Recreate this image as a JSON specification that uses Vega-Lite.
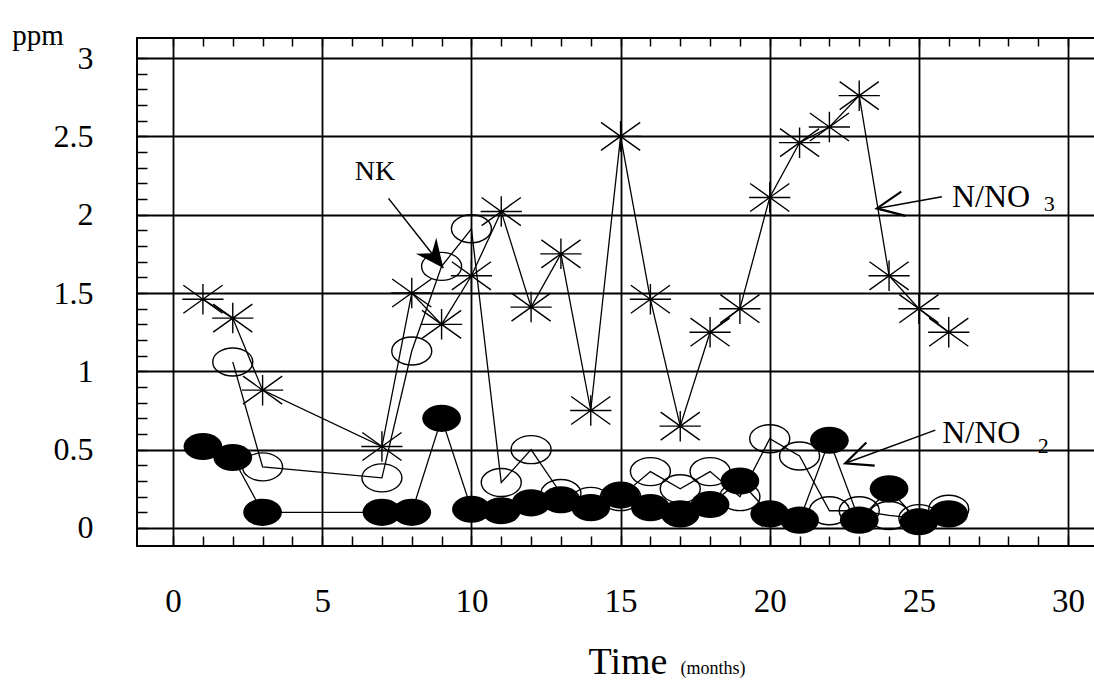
{
  "$schema": "https://vega.github.io/schema/vega-lite/v6.json",
  "width": 960,
  "height": 508,
  "autosize": {"type": "none"},
  "padding": {"left": 137, "top": 38, "right": 0, "bottom": 140},
  "background": "white",
  "config": {"view": {"stroke": "black", "strokeWidth": 2}, "font": "Liberation Serif"},
  "datasets": {
    "pts": [
      {"series": "NO3", "x": 1, "y": 1.46}, {"series": "NO3", "x": 2, "y": 1.34}, {"series": "NO3", "x": 3, "y": 0.88},
      {"series": "NO3", "x": 7, "y": 0.52}, {"series": "NO3", "x": 8, "y": 1.5}, {"series": "NO3", "x": 9, "y": 1.3},
      {"series": "NO3", "x": 10, "y": 1.61}, {"series": "NO3", "x": 11, "y": 2.02}, {"series": "NO3", "x": 12, "y": 1.41},
      {"series": "NO3", "x": 13, "y": 1.75}, {"series": "NO3", "x": 14, "y": 0.75}, {"series": "NO3", "x": 15, "y": 2.5},
      {"series": "NO3", "x": 16, "y": 1.46}, {"series": "NO3", "x": 17, "y": 0.65}, {"series": "NO3", "x": 18, "y": 1.25},
      {"series": "NO3", "x": 19, "y": 1.4}, {"series": "NO3", "x": 20, "y": 2.11}, {"series": "NO3", "x": 21, "y": 2.46},
      {"series": "NO3", "x": 22, "y": 2.56}, {"series": "NO3", "x": 23, "y": 2.76}, {"series": "NO3", "x": 24, "y": 1.61},
      {"series": "NO3", "x": 25, "y": 1.4}, {"series": "NO3", "x": 26, "y": 1.25},
      {"series": "NK", "x": 2, "y": 1.06}, {"series": "NK", "x": 3, "y": 0.39}, {"series": "NK", "x": 7, "y": 0.32},
      {"series": "NK", "x": 8, "y": 1.13}, {"series": "NK", "x": 9, "y": 1.67}, {"series": "NK", "x": 10, "y": 1.91},
      {"series": "NK", "x": 11, "y": 0.29}, {"series": "NK", "x": 12, "y": 0.5}, {"series": "NK", "x": 13, "y": 0.22},
      {"series": "NK", "x": 14, "y": 0.17}, {"series": "NK", "x": 15, "y": 0.2}, {"series": "NK", "x": 16, "y": 0.36},
      {"series": "NK", "x": 17, "y": 0.25}, {"series": "NK", "x": 18, "y": 0.36}, {"series": "NK", "x": 19, "y": 0.2},
      {"series": "NK", "x": 20, "y": 0.57}, {"series": "NK", "x": 21, "y": 0.46}, {"series": "NK", "x": 22, "y": 0.11},
      {"series": "NK", "x": 23, "y": 0.11}, {"series": "NK", "x": 24, "y": 0.08}, {"series": "NK", "x": 25, "y": 0.06},
      {"series": "NK", "x": 26, "y": 0.12},
      {"series": "NO2", "x": 1, "y": 0.52}, {"series": "NO2", "x": 2, "y": 0.45}, {"series": "NO2", "x": 3, "y": 0.1},
      {"series": "NO2", "x": 7, "y": 0.1}, {"series": "NO2", "x": 8, "y": 0.1}, {"series": "NO2", "x": 9, "y": 0.7},
      {"series": "NO2", "x": 10, "y": 0.12}, {"series": "NO2", "x": 11, "y": 0.11}, {"series": "NO2", "x": 12, "y": 0.16},
      {"series": "NO2", "x": 13, "y": 0.18}, {"series": "NO2", "x": 14, "y": 0.13}, {"series": "NO2", "x": 15, "y": 0.21},
      {"series": "NO2", "x": 16, "y": 0.13}, {"series": "NO2", "x": 17, "y": 0.09}, {"series": "NO2", "x": 18, "y": 0.15},
      {"series": "NO2", "x": 19, "y": 0.3}, {"series": "NO2", "x": 20, "y": 0.09}, {"series": "NO2", "x": 21, "y": 0.05},
      {"series": "NO2", "x": 22, "y": 0.56}, {"series": "NO2", "x": 23, "y": 0.05}, {"series": "NO2", "x": 24, "y": 0.25},
      {"series": "NO2", "x": 25, "y": 0.04}, {"series": "NO2", "x": 26, "y": 0.09}
    ],
    "arrows": [
      {"name": "NK", "x": 7.22, "y": 2.104, "x2": 9.06, "y2": 1.66},
      {"name": "NO3", "x": 25.77, "y": 2.115, "x2": 23.59, "y2": 2.04},
      {"name": "NO2", "x": 25.55, "y": 0.625, "x2": 22.53, "y2": 0.413}
    ]
  },
  "resolve": {"axis": {"x": "independent"}},
  "layer": [
    {
      "encoding": {
        "x": {
          "field": "x", "type": "quantitative",
          "scale": {"domain": [-1.21, 30.97], "nice": false, "zero": false},
          "axis": {
            "values": [0,1,2,3,4,5,6,7,8,9,10,11,12,13,14,15,16,17,18,19,20,21,22,23,24,25,26,27,28,29,30],
            "labelExpr": "datum.value % 5 === 0 ? datum.label : ''",
            "labelOverlap": false, "labelBound": false, "labelFlush": false,
            "grid": true, "gridColor": "black", "gridWidth": 1.8,
            "gridOpacity": {"condition": {"test": "datum.value % 5 === 0", "value": 1}, "value": 0},
            "ticks": true, "tickSize": -10, "tickColor": "black", "tickWidth": 1.5,
            "domain": false,
            "labelFont": "Liberation Serif", "labelFontSize": 33, "labelColor": "black",
            "labelBaseline": "middle", "labelPadding": 65,
            "title": null
          }
        },
        "y": {
          "field": "y", "type": "quantitative",
          "scale": {"domain": [-0.115, 3.128], "nice": false, "zero": false},
          "axis": {
            "values": [0,0.1,0.2,0.3,0.4,0.5,0.6,0.7,0.8,0.9,1,1.1,1.2,1.3,1.4,1.5,1.6,1.7,1.8,1.9,2,2.1,2.2,2.3,2.4,2.5,2.6,2.7,2.8,2.9,3],
            "labelExpr": "abs(datum.value*2 - round(datum.value*2)) < 0.001 ? format(datum.value, '~g') : ''",
            "labelOverlap": false, "labelBound": false, "labelFlush": false,
            "grid": true, "gridColor": "black", "gridWidth": 1.8,
            "gridOpacity": {"condition": {"test": "abs(datum.value*2 - round(datum.value*2)) < 0.001", "value": 1}, "value": 0},
            "ticks": true, "tickSize": -10, "tickColor": "black", "tickWidth": 1.5,
            "domain": false,
            "labelFont": "Liberation Serif", "labelFontSize": 32, "labelColor": "black",
            "labelPadding": 54,
            "title": null
          }
        }
      },
      "layer": [
        {"data": {"name": "pts"}, "mark": {"type": "line", "color": "black", "strokeWidth": 1.3}, "encoding": {"detail": {"field": "series"}}},
        {"data": {"name": "pts"}, "transform": [{"filter": "datum.series === 'NO3'"}],
         "mark": {"type": "point", "shape": "M-1,0L1,0M0,-0.74L0,0.74M-0.95,-0.68L0.95,0.68M-0.95,0.68L0.95,-0.68", "size": 1700, "stroke": "black", "strokeWidth": 1.4, "filled": false, "opacity": 1}},
        {"data": {"name": "pts"}, "transform": [{"filter": "datum.series === 'NK'"}],
         "mark": {"type": "point", "shape": "M-1,0A1,0.7,0,1,1,1,0A1,0.7,0,1,1,-1,0Z", "size": 1600, "stroke": "black", "strokeWidth": 1.4, "filled": false, "opacity": 1}},
        {"data": {"name": "pts"}, "transform": [{"filter": "datum.series === 'NO2'"}],
         "mark": {"type": "point", "shape": "M-1,0A1,0.7,0,1,1,1,0A1,0.7,0,1,1,-1,0Z", "size": 1500, "color": "black", "filled": true, "opacity": 1}},
        {"data": {"name": "arrows"}, "mark": {"type": "rule", "color": "black", "strokeWidth": 1.5}, "encoding": {"x2": {"field": "x2"}, "y2": {"field": "y2"}}},
        {"data": {"values": [{"x": 9.06, "y": 1.66}]},
         "mark": {"type": "point", "shape": "M0,0L-1.2,-0.55L-0.8,0L-1.2,0.55Z", "size": 2200, "angle": 52, "color": "black", "filled": true, "opacity": 1}},
        {"data": {"values": [{"x": 23.59, "y": 2.04}]},
         "mark": {"type": "point", "shape": "M-1.1,-0.5L0,0L-1.1,0.5", "size": 2400, "angle": 170, "stroke": "black", "strokeWidth": 2.2, "filled": false, "opacity": 1}},
        {"data": {"values": [{"x": 22.53, "y": 0.413}]},
         "mark": {"type": "point", "shape": "M-1.1,-0.5L0,0L-1.1,0.5", "size": 2400, "angle": 160, "stroke": "black", "strokeWidth": 2.2, "filled": false, "opacity": 1}},
        {"data": {"values": [{"x": 6.77, "y": 2.27, "text": "NK"}]},
         "mark": {"type": "text", "font": "Liberation Serif", "fontSize": 28, "color": "black", "align": "center", "baseline": "middle"}, "encoding": {"text": {"field": "text"}}},
        {"data": {"values": [{"x": 27.42, "y": 2.11, "text": "N/NO"}, {"x": 27.09, "y": 0.606, "text": "N/NO"}]},
         "mark": {"type": "text", "font": "Liberation Serif", "fontSize": 32, "color": "black", "align": "center", "baseline": "middle"}, "encoding": {"text": {"field": "text"}}},
        {"data": {"values": [{"x": 29.37, "y": 2.07, "text": "3"}, {"x": 29.17, "y": 0.523, "text": "2"}]},
         "mark": {"type": "text", "font": "Liberation Serif", "fontSize": 22, "color": "black", "align": "center", "baseline": "middle"}, "encoding": {"text": {"field": "text"}}},
        {"data": {"values": [{"x": -4.53, "y": 3.083, "text": "ppm"}]},
         "mark": {"type": "text", "font": "Liberation Serif", "fontSize": 29, "color": "black", "align": "center", "baseline": "alphabetic"}, "encoding": {"text": {"field": "text"}}},
        {"data": {"values": [{"x": 15.25, "y": -0.93, "text": "Time"}]},
         "mark": {"type": "text", "font": "Liberation Serif", "fontSize": 38, "color": "black", "align": "center", "baseline": "alphabetic"}, "encoding": {"text": {"field": "text"}}},
        {"data": {"values": [{"x": 18.1, "y": -0.93, "text": "(months)"}]},
         "mark": {"type": "text", "font": "Liberation Serif", "fontSize": 18, "color": "black", "align": "center", "baseline": "alphabetic"}, "encoding": {"text": {"field": "text"}}}
      ]
    },
    {
      "data": {"name": "pts"},
      "mark": {"type": "point", "opacity": 0},
      "encoding": {
        "x": {
          "field": "x", "type": "quantitative",
          "scale": {"domain": [-1.21, 30.97], "nice": false, "zero": false},
          "axis": {
            "orient": "top",
            "values": [0,1,2,3,4,5,6,7,8,9,10,11,12,13,14,15,16,17,18,19,20,21,22,23,24,25,26,27,28,29,30],
            "labels": false, "grid": false, "domain": false,
            "ticks": true, "tickSize": -8, "tickColor": "black", "tickWidth": 1.5,
            "title": null
          }
        }
      }
    }
  ]
}
